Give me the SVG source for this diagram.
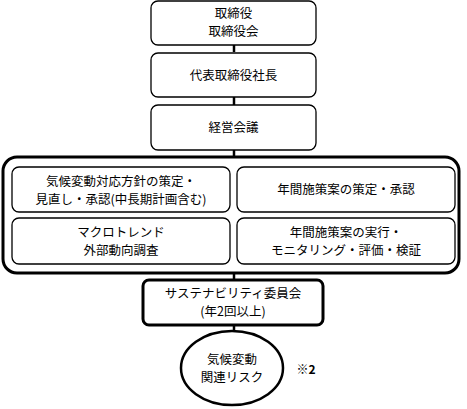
<svg xmlns="http://www.w3.org/2000/svg" width="467" height="409" viewBox="0 0 467 409">
<style>
.box{fill:#fff;stroke:#000;stroke-width:1.3}
.thick{fill:#fff;stroke:#000;stroke-width:3}
.t{font-family:"Noto Sans CJK JP","Noto Sans",sans-serif;font-size:12.5px;fill:#000;text-anchor:middle}
.c{stroke:#000;stroke-width:2.5;fill:none}
</style>
<rect width="467" height="409" fill="#fff"/>
<g id="connectors">
<line class="c" x1="234" y1="45" x2="234" y2="52"/>
<line class="c" x1="234" y1="97" x2="234" y2="105"/>
<line class="c" x1="234" y1="150" x2="234" y2="157"/>
<line class="c" x1="234" y1="273" x2="234" y2="280"/>
<line class="c" x1="234" y1="325" x2="234" y2="331"/>
</g>
<g id="n1"><rect class="box" x="151" y="1" width="165" height="44" rx="7"/>
<text class="t" x="233.5" y="18">取締役</text><text class="t" x="233.5" y="36">取締役会</text></g>
<g id="n2"><rect class="box" x="151" y="53" width="165" height="44" rx="7"/>
<text class="t" x="233.5" y="80">代表取締役社長</text></g>
<g id="n3"><rect class="box" x="151" y="105" width="165" height="45" rx="7"/>
<text class="t" x="233.5" y="132">経営会議</text></g>
<g id="container"><rect class="thick" x="3" y="157" width="456" height="116" rx="14"/></g>
<g id="n4"><rect class="box" x="12" y="167" width="218" height="45" rx="7"/>
<text class="t" x="121" y="186">気候変動対応方針の策定・</text><text class="t" x="121" y="204">見直し・承認(中長期計画含む)</text></g>
<g id="n5"><rect class="box" x="237" y="167" width="218" height="45" rx="7"/>
<text class="t" x="346" y="194">年間施策案の策定・承認</text></g>
<g id="n6"><rect class="box" x="12" y="218" width="218" height="46" rx="7"/>
<text class="t" x="121" y="237">マクロトレンド</text><text class="t" x="121" y="255">外部動向調査</text></g>
<g id="n7"><rect class="box" x="237" y="218" width="218" height="46" rx="7"/>
<text class="t" x="346" y="237">年間施策案の実行・</text><text class="t" x="346" y="255">モニタリング・評価・検証</text></g>
<g id="n8"><rect class="thick" x="143" y="280" width="180" height="45" rx="6"/>
<text class="t" x="233" y="298">サステナビリティ委員会</text><text class="t" x="233" y="316">(年2回以上)</text></g>
<g id="n9"><ellipse cx="232" cy="368" rx="51" ry="37" fill="#fff" stroke="#000" stroke-width="2.5"/>
<text class="t" x="232" y="364">気候変動</text><text class="t" x="232" y="382">関連リスク</text></g>
<text class="t" x="306" y="374" style="font-size:12px;font-weight:bold">※2</text>
</svg>
